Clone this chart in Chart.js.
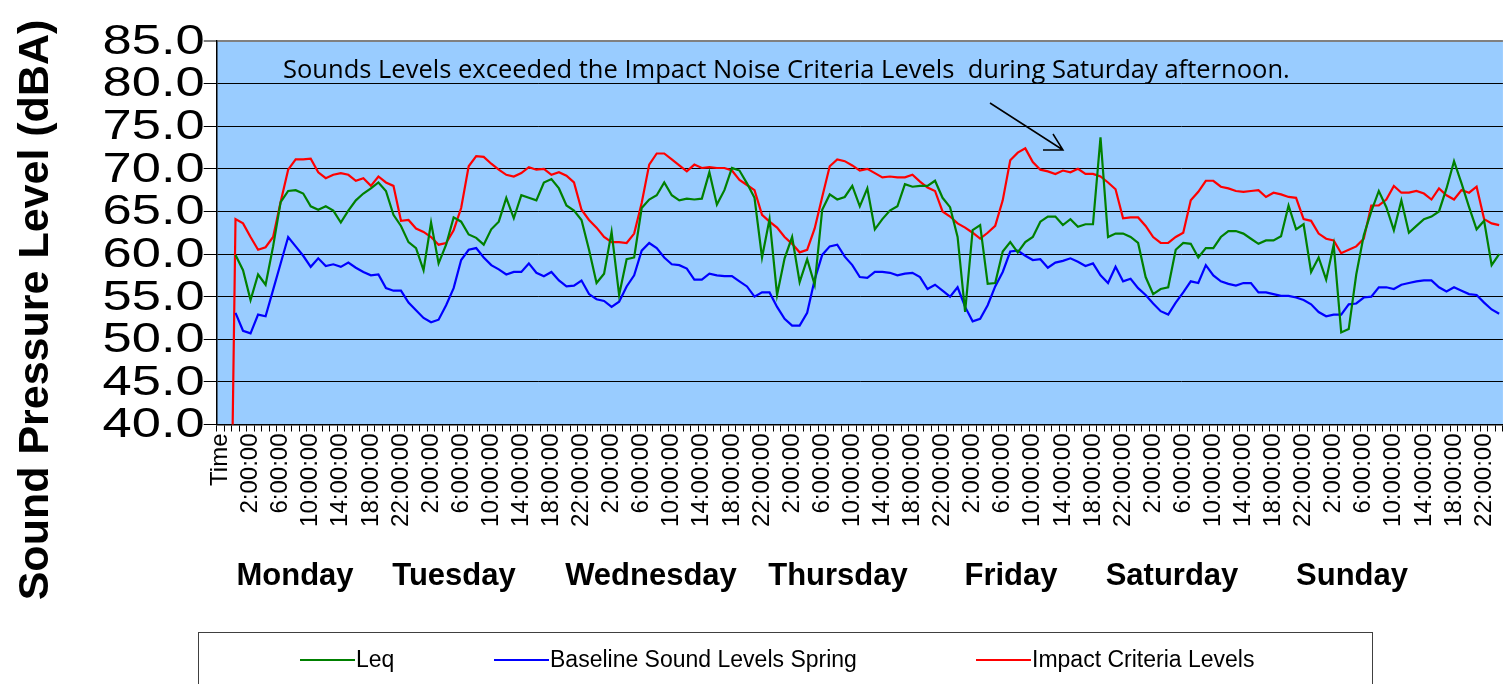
<!DOCTYPE html>
<html>
<head>
<meta charset="utf-8">
<script src="https://cdn.jsdelivr.net/npm/chart.js@4.4.1/dist/chart.umd.min.js"></script>
<style>
  html, body { margin: 0; padding: 0; background: #fff; overflow: hidden; }
  #wrap { position: relative; width: 1530px; height: 684px; }
</style>
</head>
<body>
<div id="wrap"><canvas id="chart" width="1530" height="684"></canvas></div>
<script>
//Days shown under the axis
const dayNames = ['Monday', 'Tuesday', 'Wednesday', 'Thursday', 'Friday', 'Saturday', 'Sunday'];
//Hourly values, one line per day (Mon..Sun)
const leq = [
  59.9, 58.1, 54.6, 57.6, 56.4, 60.9, 66.1, 67.4, 67.5, 67.1, 65.6, 65.2, 65.6, 65.1, 63.7, 65.1, 66.3, 67.1, 67.7, 68.4, 67.4, 64.6, 63.3, 61.4,
  60.7, 58.1, 63.7, 58.9, 61.1, 64.3, 63.8, 62.3, 61.9, 61.1, 62.9, 63.8, 66.6, 64.2, 66.9, 66.6, 66.3, 68.4, 68.8, 67.7, 65.7, 65.1, 64.0, 60.5,
  56.6, 57.7, 62.6, 55.2, 59.4, 59.6, 65.4, 66.4, 66.9, 68.4, 66.9, 66.3, 66.5, 66.4, 66.5, 69.6, 65.8, 67.5, 70.1, 69.8, 68.3, 66.6, 59.6, 64.1,
  55.2, 59.5, 62.0, 56.7, 59.4, 56.4, 65.2, 67.0, 66.4, 66.7, 68.0, 65.6, 67.7, 62.9, 64.1, 65.1, 65.6, 68.2, 67.9, 68.0, 68.0, 68.6, 66.6, 65.5,
  62.0, 53.2, 62.8, 63.4, 56.5, 56.6, 60.3, 61.4, 60.2, 61.4, 62.0, 63.8, 64.4, 64.4, 63.4, 64.1, 63.2, 63.5, 63.5, 73.7, 62.0, 62.4, 62.4, 62.0,
  61.3, 57.3, 55.3, 55.9, 56.1, 60.5, 61.3, 61.2, 59.6, 60.7, 60.7, 62.0, 62.7, 62.7, 62.4, 61.8, 61.2, 61.6, 61.6, 62.1, 65.7, 62.9, 63.5, 57.9,
  59.6, 57.0, 61.1, 50.8, 51.2, 57.6, 62.2, 65.0, 67.4, 65.5, 62.8, 66.3, 62.5, 63.3, 64.1, 64.4, 65.0, 67.7, 70.9, 68.3, 65.5, 62.9, 63.9, 58.7,
  60.0
];
const baseline = [
  53.1, 51.0, 50.7, 52.9, 52.7, 55.8, 58.9, 62.0, 60.9, 59.8, 58.5, 59.5, 58.6, 58.8, 58.5, 59.0, 58.4, 57.9, 57.5, 57.6, 56.0, 55.7, 55.7, 54.3,
  53.4, 52.5, 52.0, 52.3, 54.0, 56.0, 59.3, 60.5, 60.7, 59.6, 58.7, 58.2, 57.6, 57.9, 57.9, 58.9, 57.8, 57.4, 57.9, 56.9, 56.2, 56.3, 56.9, 55.3,
  54.7, 54.5, 53.8, 54.4, 56.2, 57.5, 60.4, 61.3, 60.7, 59.6, 58.8, 58.7, 58.3, 57.0, 57.0, 57.7, 57.5, 57.4, 57.4, 56.8, 56.2, 55.0, 55.5, 55.5,
  53.8, 52.4, 51.6, 51.6, 53.1, 57.0, 59.9, 60.9, 61.1, 59.7, 58.7, 57.3, 57.2, 57.9, 57.9, 57.8, 57.5, 57.7, 57.8, 57.3, 55.9, 56.4, 55.7, 55.0,
  56.1, 53.8, 52.1, 52.4, 54.0, 56.2, 57.9, 60.3, 60.4, 59.8, 59.3, 59.4, 58.4, 59.0, 59.2, 59.5, 59.1, 58.6, 58.9, 57.5, 56.6, 58.5, 56.8, 57.1,
  56.0, 55.2, 54.2, 53.3, 52.9, 54.3, 55.5, 56.8, 56.6, 58.7, 57.5, 56.8, 56.5, 56.3, 56.6, 56.6, 55.5, 55.5, 55.3, 55.1, 55.1, 54.9, 54.6, 54.1,
  53.2, 52.7, 52.9, 52.9, 54.1, 54.2, 54.9, 55.0, 56.1, 56.1, 55.9, 56.4, 56.6, 56.8, 56.9, 56.9, 56.1, 55.6, 56.1, 55.7, 55.3, 55.2, 54.3, 53.5,
  53.0
];
const impact = [
  64.1, 63.6, 62.0, 60.5, 60.8, 62.0, 66.1, 69.9, 71.1, 71.1, 71.2, 69.6, 68.9, 69.3, 69.5, 69.3, 68.6, 68.9, 68.0, 69.1, 68.4, 68.0, 63.9, 64.0,
  63.0, 62.6, 62.0, 61.1, 61.3, 62.8, 65.4, 70.3, 71.5, 71.4, 70.6, 69.9, 69.3, 69.1, 69.5, 70.2, 69.9, 70.0, 69.3, 69.6, 69.2, 68.4, 65.2, 64.0,
  63.1, 62.0, 61.4, 61.4, 61.3, 62.4, 66.0, 70.5, 71.8, 71.8, 71.1, 70.4, 69.7, 70.5, 70.1, 70.2, 70.1, 70.1, 69.8, 68.7, 68.1, 67.5, 64.6, 63.8,
  63.1, 62.0, 61.2, 60.2, 60.5, 63.0, 66.7, 70.3, 71.1, 70.9, 70.4, 69.8, 70.0, 69.5, 69.0, 69.1, 69.0, 69.0, 69.3, 68.5, 67.8, 67.4, 65.0, 64.4,
  63.6, 63.1, 62.5, 61.8, 62.5, 63.3, 66.3, 71.0, 71.9, 72.4, 70.8, 69.9, 69.7, 69.4, 69.8, 69.6, 70.0, 69.4, 69.4, 69.1, 68.4, 67.6, 64.2, 64.3,
  64.3, 63.3, 62.0, 61.3, 61.3, 62.0, 62.5, 66.3, 67.3, 68.6, 68.6, 67.9, 67.7, 67.4, 67.3, 67.4, 67.5, 66.7, 67.2, 67.0, 66.7, 66.6, 64.1, 63.9,
  62.4, 61.8, 61.6, 60.1, 60.5, 60.9, 61.8, 65.7, 65.7, 66.4, 68.0, 67.2, 67.2, 67.4, 67.1, 66.4, 67.7, 66.9, 66.4, 67.5, 67.2, 67.9, 64.1, 63.6,
  63.4
];
//The sheet had a header row ("Time") and one empty row before Monday 0:00
const headLabels = ['Time', ''];
const headLeq = [null, null];
const headBaseline = [null, null];
const headImpact = [null, 0];
const yTicks = [40, 45, 50, 55, 60, 65, 70, 75, 80, 85];

//hour labels for every row
const labels = headLabels.slice();
for (let i = 0; i < leq.length; i++) labels.push((i % 24) + ':00:00');

const FONT = "'Liberation Sans', Arial, sans-serif";

//background of the plot and the text boxes of the sheet
const decor = {
  id: 'decor',
  beforeDraw(chart) {
    const { ctx, chartArea: a } = chart;
    ctx.save();
    ctx.fillStyle = '#99ccff';
    ctx.fillRect(a.left, a.top, a.right - a.left, a.bottom - a.top);
    ctx.restore();
  },
  afterDraw(chart) {
    const { ctx } = chart;
    const ys = chart.scales.y;

    //y tick labels, a bit wider like the sheet does
    ctx.save();
    ctx.fillStyle = '#000';
    ctx.font = '43px ' + FONT;
    ctx.textAlign = 'right';
    ctx.textBaseline = 'middle';
    ys.ticks.forEach((t) => {
      ctx.save();
      ctx.translate(ys.right - 12, ys.getPixelForValue(t.value) + 1);
      ctx.scale(1.22, 1);
      ctx.fillText(t.value.toFixed(1), 0, 0);
      ctx.restore();
    });
    ctx.restore();

    //y title
    ctx.save();
    ctx.fillStyle = '#000';
    ctx.font = 'bold 43px ' + FONT;
    ctx.textAlign = 'center';
    ctx.textBaseline = 'middle';
    ctx.translate(36, 310);
    ctx.rotate(-Math.PI / 2);
    ctx.fillText('Sound Pressure Level (dBA)', 0, 0);
    ctx.restore();

    //day names
    const dayX = [295, 454, 651, 838, 1011, 1172, 1352];
    ctx.save();
    ctx.fillStyle = '#000';
    ctx.font = 'bold 31px ' + FONT;
    ctx.textAlign = 'center';
    ctx.textBaseline = 'alphabetic';
    dayNames.forEach((d, i) => ctx.fillText(d, dayX[i], 585));
    ctx.restore();

    //note and arrow
    ctx.save();
    const note = 'Sounds Levels exceeded the Impact Noise Criteria Levels  during Saturday afternoon.';
    ctx.font = "22px 'Open Sans', sans-serif";
    const w = ctx.measureText(note).width;
    ctx.font = (22 * 1007 / w).toFixed(2) + "px 'Open Sans', sans-serif";
    ctx.fillStyle = '#000';
    ctx.textBaseline = 'alphabetic';
    ctx.fillText(note, 283, 78);
    ctx.strokeStyle = '#000';
    ctx.lineWidth = 1.5;
    ctx.beginPath();
    ctx.moveTo(990, 103);
    ctx.lineTo(1063, 150);
    ctx.moveTo(1053, 134);
    ctx.lineTo(1063, 150);
    ctx.lineTo(1043, 150);
    ctx.stroke();
    ctx.restore();

    //legend box
    const legX = [300, 494, 976];
    ctx.save();
    ctx.strokeStyle = '#404040';
    ctx.lineWidth = 1;
    ctx.strokeRect(198.5, 632.5, 1174, 80);
    ctx.font = '23px ' + FONT;
    ctx.textBaseline = 'middle';
    chart.data.datasets.forEach((ds, i) => {
      ctx.strokeStyle = ds.borderColor;
      ctx.lineWidth = 2;
      ctx.beginPath();
      ctx.moveTo(legX[i], 660);
      ctx.lineTo(legX[i] + 55, 660);
      ctx.stroke();
      ctx.fillStyle = '#000';
      ctx.fillText(ds.label, legX[i] + 56, 661);
    });
    ctx.restore();
  }
};

new Chart(document.getElementById('chart'), {
  type: 'line',
  plugins: [decor],
  data: {
    labels: labels,
    datasets: [
      { label: 'Leq', data: headLeq.concat(leq), borderColor: '#008000' },
      { label: 'Baseline Sound Levels Spring', data: headBaseline.concat(baseline), borderColor: '#0000ff' },
      { label: 'Impact Criteria Levels', data: headImpact.concat(impact), borderColor: '#ff0000' },
    ],
  },
  options: {
    responsive: false,
    animation: false,
    devicePixelRatio: 1,
    layout: { padding: { top: 41, right: 13.7, bottom: 0, left: 0 } },
    elements: {
      line: { borderWidth: 2.2, tension: 0 },
      point: { radius: 0 },
    },
    plugins: {
      legend: { display: false },
      tooltip: { enabled: false },
    },
    scales: {
      x: {
        offset: true,
        afterFit: (s) => { s.height = 259.5; },
        grid: { offset: true, drawOnChartArea: false, tickLength: 7, color: '#000' },
        border: { color: '#000', width: 1.5 },
        ticks: {
          autoSkip: false,
          minRotation: 90,
          maxRotation: 90,
          padding: 2,
          color: '#000',
          font: { family: FONT, size: 24 },
          callback: (v, i) => (i % 4 === 0 ? labels[i] : ''),
        },
      },
      y: {
        min: yTicks[0],
        max: yTicks[yTicks.length - 1],
        afterFit: (s) => { s.width = 216.7; },
        afterBuildTicks: (s) => { s.ticks = yTicks.map((v) => ({ value: v })); },
        grid: {
          tickLength: 13,
          color: (c) => (c.tick && c.tick.value === 85 ? '#808080' : '#000'),
          lineWidth: (c) => (c.tick && c.tick.value === 85 ? 2 : 1),
        },
        border: { color: '#000', width: 1.5 },
        ticks: { display: false, autoSkip: false },
      },
    },
  },
});
</script>
</body>
</html>
